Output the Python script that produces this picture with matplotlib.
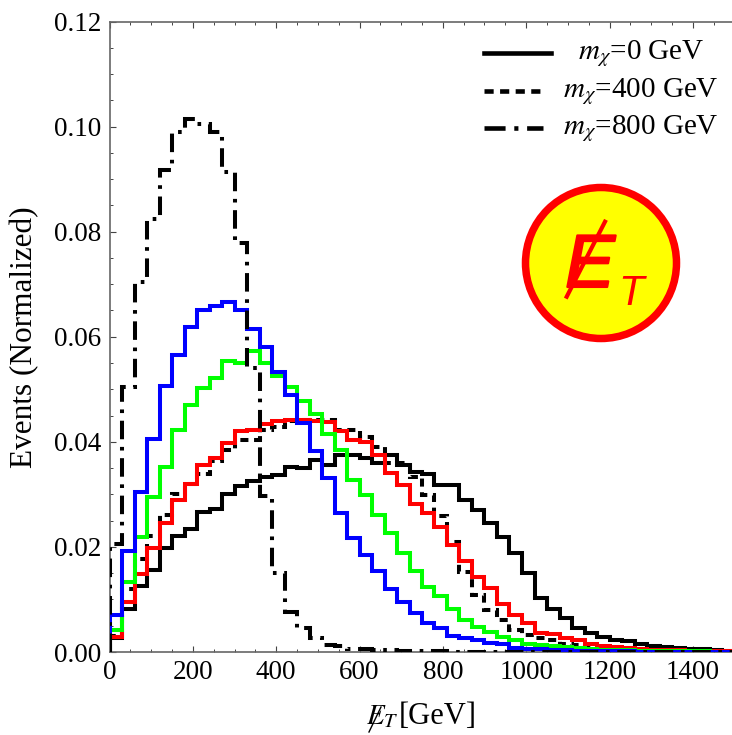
#!/usr/bin/env python3
"""Normalized missing-ET distributions for three DM masses, with legend and badge."""

import numpy as np
import matplotlib
matplotlib.use("Agg")
import matplotlib.pyplot as plt
import matplotlib.patheffects as pe
from matplotlib.lines import Line2D
from matplotlib.patches import Circle
from matplotlib.transforms import IdentityTransform

W, H = 732, 735
BIN_WIDTH = 30

black = [.0027, .0082, .0126, .0157, .0198, .0220, .0235, .0266, .0272, .0300,
         .0315, .0325, .0334, .0337, .0352, .0350, .0366, .0356, .0374, .0374,
         .0369, .0360, .0375, .0356, .0343, .0339, .0318, .0318, .0289, .0271,
         .0245, .0219, .0189, .0150, .0103, .0081, .0064, .0045, .0037, .0029,
         .0023, .0021, .0015, .0012, .0010, .0008, .0006, .0005, .0003, .0002]
red = [.0029, .0095, .0148, .0198, .0245, .0289, .0320, .0355, .0369, .0398,
       .0420, .0423, .0434, .0439, .0441, .0442, .0439, .0437, .0420, .0404,
       .0399, .0374, .0340, .0318, .0281, .0264, .0237, .0204, .0173, .0143,
       .0121, .0091, .0070, .0055, .0037, .0034, .0026, .0022, .0016, .0012,
       .0009, .0007, .0005, .0004, .0003, .0003, .0002, .0002, .0001, .0001]
green = [.0041, .0133, .0219, .0295, .0352, .0423, .0470, .0502, .0521, .0554,
         .0550, .0572, .0550, .0525, .0505, .0477, .0453, .0414, .0384, .0328,
         .0299, .0261, .0227, .0188, .0154, .0124, .0107, .0081, .0060, .0048,
         .0039, .0029, .0022, .0016, .0013, .0011, .0009, .0007, .0005, .0004,
         .0003, .0003, .0002, .0002, .0001, .0001, .0001, .0001, .0000, .0000]
blue = [.0070, .0192, .0304, .0405, .0506, .0565, .0619, .0650, .0658, .0667,
        .0650, .0614, .0580, .0533, .0489, .0436, .0383, .0331, .0265, .0217,
        .0185, .0155, .0120, .0095, .0074, .0055, .0046, .0030, .0026, .0022,
        .0018, .0015, .0008, .0006, .0005, .0003, .0003, .0002, .0001, .0001,
        .0001, .0001, .0000, .0000, .0000, .0000, .0000, .0000, .0000, .0000]
m400 = [.0030, .0119, .0177, .0220, .0261, .0300, .0320, .0339, .0364, .0385,
        .0403, .0403, .0423, .0429, .0439, .0441, .0442, .0441, .0423, .0422,
        .0409, .0391, .0359, .0359, .0334, .0299, .0258, .0210, .0153, .0108,
        .0080, .0061, .0041, .0032, .0026, .0022, .0016, .0013, .0010, .0008,
        .0006, .0005, .0004, .0003, .0002, .0002, .0001, .0001, .0001, .0000]
m800 = [.0206, .0505, .0705, .0825, .0917, .0989, .1015, .1005, .0989, .0914,
        .0778, .0540, .0296, .0150, .0077, .0046, .0027, .0014, .0011, .0006,
        .0005, .0004, .0003, .0002, .0001, .0001, .0001, .0000, .0000, .0000,
        .0000, .0000, .0000, .0000, .0000, .0000, .0000, .0000, .0000, .0000,
        .0000, .0000, .0000, .0000, .0000, .0000, .0000, .0000, .0000, .0000]

x_ticks = [0, 200, 400, 600, 800, 1000, 1200, 1400]
y_ticks = [0.00, 0.02, 0.04, 0.06, 0.08, 0.10, 0.12]
legend_labels = [r"$m_{\chi}$=0 GeV", r"$m_{\chi}$=400 GeV", r"$m_{\chi}$=800 GeV"]

DOTTED = (0, (2.0, 1.4))
DOTDASH = (0, (4.6, 1.9, 0.9, 1.9))

plt.rcParams["font.family"] = ["Liberation Serif", "DejaVu Serif"]
plt.rcParams["mathtext.fontset"] = "stix"


def fx(px):
    return px / W


def fy(py):
    return 1 - py / H


def main():
    fig = plt.figure(figsize=(W / 100, H / 100), dpi=100)
    ax = fig.add_axes([fx(109.5), fy(652), 1 - fx(109.5), fy(21.5) - fy(652)])

    edges = np.arange(len(black) + 1) * BIN_WIDTH
    lw = 2.9
    ax.stairs(m400, edges, color="black", lw=lw, ls=DOTTED, zorder=2)
    ax.stairs(black, edges, color="black", lw=lw, zorder=3)
    ax.stairs(red, edges, color="#ff0000", lw=lw, zorder=4)
    ax.stairs(green, edges, color="#00ff00", lw=lw, zorder=5)
    ax.stairs(blue, edges, color="#0000ff", lw=lw, zorder=6)
    ax.stairs(m800, edges, color="black", lw=lw, ls=DOTDASH, zorder=7)

    ax.set_xlim(0, 1494)
    ax.set_ylim(0, 0.12)
    ax.set_xticks(x_ticks)
    ax.set_yticks(y_ticks)
    ax.set_yticklabels([f"{v:.2f}" for v in y_ticks])
    ax.set_xticks(np.arange(0, 1500, 50), minor=True)
    ax.set_yticks(np.arange(0, 0.1201, 0.005), minor=True)
    ax.tick_params(which="major", direction="in", length=4.5, width=0.8, color="#444444",
                   top=True, labelsize=19.5, pad=6)
    ax.tick_params(which="minor", direction="in", length=2.5, width=0.7, color="#444444",
                   top=True)
    for side in ("left", "top", "bottom"):
        ax.spines[side].set_color("#666666")
        ax.spines[side].set_linewidth(1.2)
    ax.spines["right"].set_visible(False)

    fig.text(fx(25), fy(337), "Events (Normalized)", rotation=90, fontsize=22.5,
             ha="center", va="center")

    # x label, slash through the E drawn by hand
    fig.text(fx(366), fy(717), r"$E_T$", fontsize=21, ha="left", va="center")
    fig.text(fx(477), fy(717), "[GeV]", fontsize=22, ha="right", va="center")
    fig.add_artist(Line2D([fx(369), fx(381)], [fy(732), fy(707)], color="black", lw=1.0))

    # legend
    rows_y = [53, 91, 128]
    styles = [("-", 67), (DOTTED, 59), (DOTDASH, 59)]
    for py, label, (ls, length) in zip(rows_y, legend_labels, styles):
        fig.add_artist(Line2D([fx(484), fx(484 + length)], [fy(py), fy(py)],
                              color="black", lw=3.3, ls=ls))
        fig.text(fx(641), fy(py + 1), label, fontsize=21, ha="center", va="center")

    # E_T badge, circle in display pixels so it stays round
    badge = Circle((601, H - 263), 75.5, transform=IdentityTransform(),
                   facecolor="#ffff00", edgecolor="#ff0000", lw=5.4)
    fig.add_artist(badge)
    fig.text(fx(565), fy(287), "E", fontsize=54, color="#ff0000", family="Liberation Sans",
             style="italic", ha="left", va="baseline",
             path_effects=[pe.withStroke(linewidth=1.5, foreground="#ff0000")])
    fig.text(fx(618), fy(305), "T", fontsize=30, color="#ff0000", family="Liberation Sans",
             style="italic", ha="left", va="baseline")
    fig.add_artist(Line2D([fx(566.7), fx(605)], [fy(296.7), fy(221.7)], color="#ff0000", lw=3.0))

    fig.savefig("out.png", dpi=100)


if __name__ == "__main__":
    main()
